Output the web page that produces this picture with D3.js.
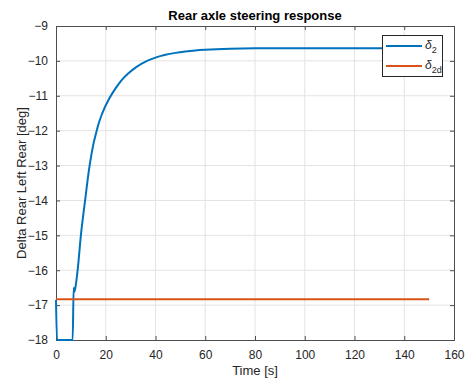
<!DOCTYPE html>
<html><head><meta charset="utf-8">
<script src="https://cdn.jsdelivr.net/npm/d3@7"></script>
<style>body{margin:0;background:#fff}svg{display:block}text{font-family:Helvetica,"Liberation Sans",Arial,sans-serif}</style>
</head><body>
<script>
const xTicks = [0,20,40,60,80,100,120,140,160];
const yTicks = [-18,-17,-16,-15,-14,-13,-12,-11,-10,-9];
const timeBlue = [0,0.4,6.7,7.1,7.4,7.9,8.7,10.0,11.7,13.3,14.2,15.0,16.0,17.0,18.5,21.4,24,26.4,29,32.4,36,40,44,48,52,56,60,70,80,100,120,150];
const delta2   = [-16.85,-18,-18,-16.5,-16.62,-16.45,-16.0,-15.0,-14.0,-13.1,-12.7,-12.4,-12.1,-11.83,-11.52,-11.08,-10.78,-10.55,-10.36,-10.17,-10.02,-9.905,-9.825,-9.77,-9.73,-9.70,-9.68,-9.65,-9.64,-9.64,-9.64,-9.64];
const timeOrange = [0,150];
const delta2d = [-16.83,-16.83];

const W=470,H=380, L=56, R=454, T=26, B=340;
const svg=d3.select("body").append("svg").attr("width",W).attr("height",H);
const x=d3.scaleLinear().domain([0,160]).range([L,R]);
const y=d3.scaleLinear().domain([-18,-9]).range([B,T]);

svg.append("g").selectAll("line").data(xTicks.slice(1,-1)).join("line")
 .attr("x1",d=>x(d)).attr("x2",d=>x(d)).attr("y1",T).attr("y2",B).attr("stroke","#e3e3e3");
svg.append("g").selectAll("line").data(yTicks.slice(1,-1)).join("line")
 .attr("y1",d=>y(d)).attr("y2",d=>y(d)).attr("x1",L).attr("x2",R).attr("stroke","#e3e3e3");

const axCol="#262626";
const gx=svg.append("g").attr("transform",`translate(0,${B})`)
 .call(d3.axisBottom(x).tickValues(xTicks).tickSize(-4).tickPadding(8));
const gy=svg.append("g").attr("transform",`translate(${L},0)`)
 .call(d3.axisLeft(y).tickValues(yTicks).tickSize(-4).tickPadding(8).tickFormat(d3.format("d")));
const gx2=svg.append("g").attr("transform",`translate(0,${T})`)
 .call(d3.axisTop(x).tickValues(xTicks).tickSize(-4).tickFormat(""));
const gy2=svg.append("g").attr("transform",`translate(${R},0)`)
 .call(d3.axisRight(y).tickValues(yTicks).tickSize(-4).tickFormat(""));
[gx,gy,gx2,gy2].forEach(g=>{
  g.select(".domain").attr("stroke","#4d4d4d").attr("stroke-width",1);
  g.selectAll(".tick line").attr("stroke","#4d4d4d");
  g.selectAll("text").attr("fill",axCol).attr("font-size",12);
});
gx.selectAll(".tick text").attr("dy","0.9em");

const line=d3.line().x(d=>x(d[0])).y(d=>y(d[1])).curve(d3.curveMonotoneX);
svg.append("path").datum(timeBlue.map((t,i)=>[t,delta2[i]])).attr("d",line)
 .attr("fill","none").attr("stroke","#0072BD").attr("stroke-width",2).attr("stroke-linejoin","round");
svg.append("path").datum(timeOrange.map((t,i)=>[t,delta2d[i]])).attr("d",line)
 .attr("fill","none").attr("stroke","#D95319").attr("stroke-width",2);

svg.append("text").attr("x",(L+R)/2).attr("y",20).attr("text-anchor","middle")
 .attr("font-weight","bold").attr("font-size",13).attr("fill","#000").text("Rear axle steering response");
svg.append("text").attr("x",(L+R)/2).attr("y",375).attr("text-anchor","middle")
 .attr("font-size",13).attr("fill",axCol).text("Time [s]");
svg.append("text").attr("transform",`translate(26,${(T+B)/2}) rotate(-90)`).attr("text-anchor","middle")
 .attr("font-size",13).attr("fill",axCol).text("Delta Rear Left Rear [deg]");

const lg=svg.append("g");
lg.append("rect").attr("x",382.5).attr("y",35.5).attr("width",60).attr("height",41)
 .attr("fill","#fff").attr("stroke","#262626").attr("stroke-width",1);
const items=[{c:"#0072BD",s:"2",yy:46},{c:"#D95319",s:"2d",yy:66}];
items.forEach(it=>{
  lg.append("line").attr("x1",386).attr("x2",422).attr("y1",it.yy).attr("y2",it.yy).attr("stroke",it.c).attr("stroke-width",2);
  const t=lg.append("text").attr("x",425).attr("y",it.yy+3).attr("font-size",12).attr("fill",axCol);
  t.append("tspan").attr("font-style","italic").text("δ");
  t.append("tspan").attr("font-size",9).attr("dy",4).text(it.s);
});
</script>
</body></html>
